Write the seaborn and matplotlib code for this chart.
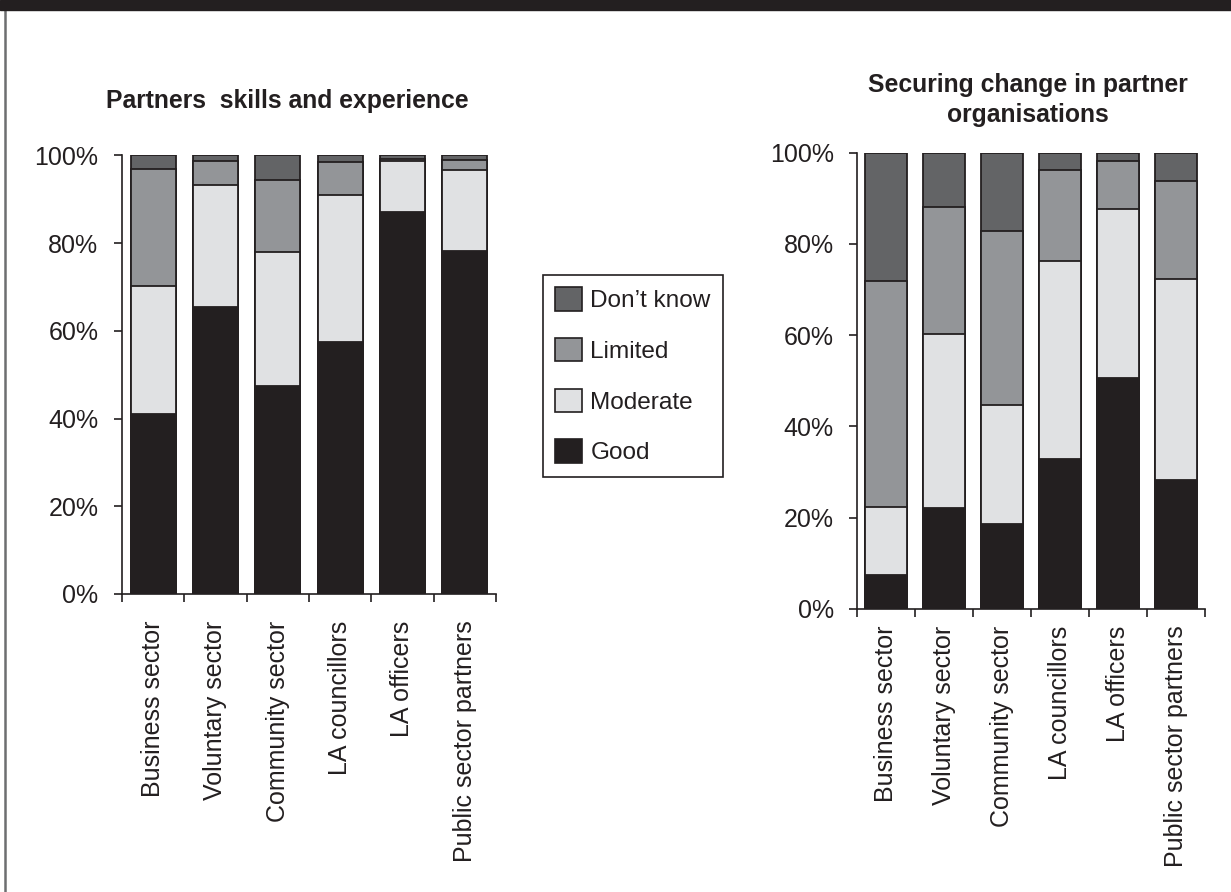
import numpy as np
import matplotlib
matplotlib.use("Agg")
import matplotlib.pyplot as plt
from matplotlib.patches import Patch, Rectangle
from matplotlib.lines import Line2D
import seaborn as sns

# ---- data -----------------------------------------------------------------
categories = ["Business sector", "Voluntary sector", "Community sector",
              "LA councillors", "LA officers", "Public sector partners"]
levels = ["Don\u2019t know", "Limited", "Moderate", "Good"]

# Partners' skills and experience (% of respondents)
skills_good = [41.0, 65.5, 47.4, 57.5, 87.0, 78.2]
skills_moderate = [29.3, 27.8, 30.7, 33.5, 11.7, 18.6]
skills_limited = [26.6, 5.5, 16.2, 7.5, 0.6, 2.2]
skills_dont_know = [3.1, 1.2, 5.7, 1.5, 0.7, 1.0]

# Securing change in partner organisations (% of respondents)
change_good = [7.5, 22.0, 18.5, 32.9, 50.6, 28.2]
change_moderate = [14.8, 38.2, 26.2, 43.4, 37.1, 44.1]
change_limited = [49.6, 28.0, 38.2, 19.8, 10.5, 21.5]
change_dont_know = [28.1, 11.8, 17.1, 3.9, 1.8, 6.2]

y_ticks = [0, 20, 40, 60, 80, 100]
y_tick_labels = ["0%", "20%", "40%", "60%", "80%", "100%"]

# ---- style ----------------------------------------------------------------
INK = "#231f20"
level_colors = {"Don\u2019t know": "#636466", "Limited": "#939598",
                "Moderate": "#e0e1e3", "Good": "#231f20"}
FS = 18

sns.set_theme(style="white")
plt.rcParams["font.family"] = ["Liberation Sans", "DejaVu Sans"]
plt.rcParams["text.color"] = INK
plt.rcParams["axes.edgecolor"] = INK
plt.rcParams["xtick.color"] = INK
plt.rcParams["ytick.color"] = INK

fig = plt.figure(figsize=(12.31, 8.92), dpi=100)
fig.patch.set_facecolor("white")


def stacked(ax, good, moderate, limited, dont_know, label_pad):
    layers = {"Good": np.array(good), "Moderate": np.array(moderate),
              "Limited": np.array(limited), "Don\u2019t know": np.array(dont_know)}
    # cumulative tops, drawn from the tallest layer downwards
    order = ["Good", "Moderate", "Limited", "Don\u2019t know"]
    tops = {}
    running = np.zeros(len(categories))
    for name in order:
        running = running + layers[name]
        tops[name] = running.copy()
    for name in reversed(order):
        sns.barplot(x=categories, y=tops[name], color=level_colors[name],
                    saturation=1, errorbar=None, width=0.72,
                    edgecolor=INK, linewidth=1.3, ax=ax)
    ax.set_ylim(0, 100)
    ax.set_xlim(-0.5, len(categories) - 0.5)
    ax.set_yticks(y_ticks)
    ax.set_yticklabels(y_tick_labels, fontsize=FS)
    ax.set_xticks(np.arange(-0.5, len(categories), 1.0))
    ax.set_xticklabels([])
    ax.set_xticks(np.arange(len(categories)), minor=True)
    ax.set_xticklabels(categories, minor=True, rotation=90, fontsize=FS,
                       va="top", ha="center")
    ax.tick_params(axis="x", which="minor", length=0, pad=label_pad)
    ax.tick_params(axis="x", which="major", length=6, width=1.2,
                   direction="out", bottom=True)
    ax.tick_params(axis="y", length=6, width=1.2, direction="out",
                   left=True, pad=11)
    ax.set_xlabel("")
    ax.set_ylabel("")
    for side in ("top", "right"):
        ax.spines[side].set_visible(False)
    for side in ("left", "bottom"):
        ax.spines[side].set_color(INK)
        ax.spines[side].set_linewidth(1.2)
    ax.grid(False)


ax1 = fig.add_axes([0.0991, 0.3341, 0.3038, 0.4916])
stacked(ax1, skills_good, skills_moderate, skills_limited, skills_dont_know, 19)

ax2 = fig.add_axes([0.6964, 0.3176, 0.2825, 0.5112])
stacked(ax2, change_good, change_moderate, change_limited, change_dont_know, 12)

# panel titles
fig.text(0.2335, 1 - 101 / 892, "Partners  skills and experience",
         ha="center", va="center", fontsize=17.8, fontweight="bold", color=INK)
fig.text(0.835, 1 - 100 / 892, "Securing change in partner\norganisations",
         ha="center", va="center", fontsize=17.8, fontweight="bold", color=INK,
         linespacing=1.3)

# shared legend
handles = [Patch(facecolor=level_colors[n], edgecolor=INK, linewidth=1.2)
           for n in levels]
leg = fig.legend(handles, levels, loc="upper left",
                 bbox_to_anchor=(0.4409, 0.6917), bbox_transform=fig.transFigure,
                 fontsize=17.6, frameon=True, fancybox=False, shadow=False,
                 handlelength=1.1, handleheight=1.1, labelspacing=1.05,
                 handletextpad=0.35, borderpad=0.5, borderaxespad=0)
leg.get_frame().set_edgecolor(INK)
leg.get_frame().set_linewidth(1.2)
leg.get_frame().set_alpha(1)

# page furniture: dark header band and left rule
fig.add_artist(Rectangle((0, 1 - 10 / 892), 1, 10 / 892,
                         transform=fig.transFigure, color=INK, zorder=5))
fig.add_artist(Line2D([4.5 / 1231, 4.5 / 1231], [0, 1 - 10 / 892],
                      transform=fig.transFigure, color="#6d6e70", lw=1.8))

fig.savefig("out.png", dpi=100)
